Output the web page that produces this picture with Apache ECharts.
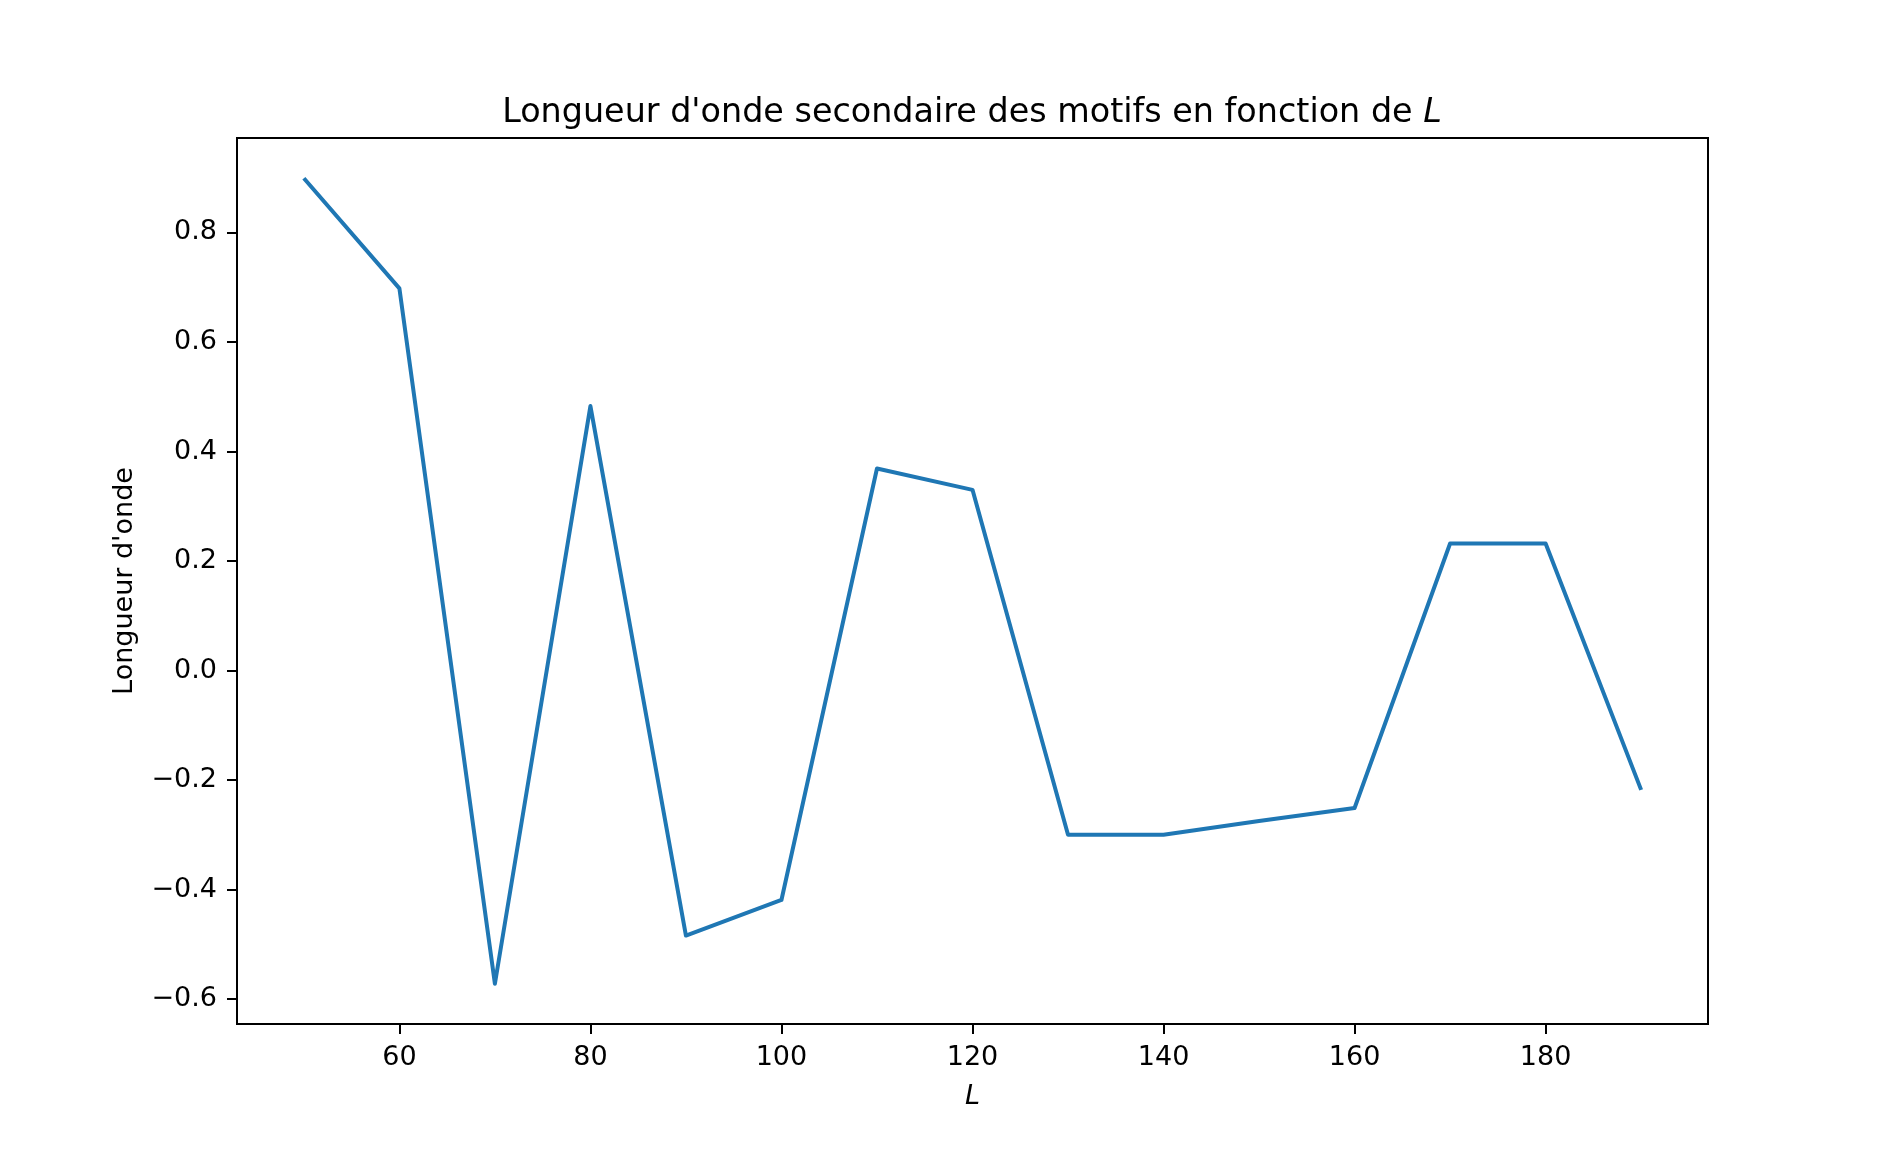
<!DOCTYPE html>
<html>
<head>
<meta charset="UTF-8">
<title>Longueur d'onde</title>
<script src="https://cdn.jsdelivr.net/npm/echarts@6/dist/echarts.min.js"></script>
<style>
	body{margin:0;background:#fff;}
</style>
</head>
<body>
	<div id="main" style="width:1898px;height:1150px;"></div>
	<script type="text/javascript">
		// valeurs
		var L = [50, 60, 70, 80, 90, 100, 110, 120, 130, 140, 150, 160, 170, 180, 190];
		var longueur = [0.899, 0.698, -0.572, 0.483, -0.484, -0.419, 0.369, 0.330, -0.300, -0.300, -0.275, -0.251, 0.232, 0.232, -0.218];
		var xTicks = [60, 80, 100, 120, 140, 160, 180];
		var yTicks = [-0.6, -0.4, -0.2, 0.0, 0.2, 0.4, 0.6, 0.8];

		var font = 'DejaVu Sans';
		var axisCommon = {
			axisLine:{show:true, onZero:false, lineStyle:{color:'#000', width:2}},
			axisTick:{show:true, inside:false, length:10, lineStyle:{color:'#000', width:2}},
			splitLine:{show:false}
		};

		var myChart = echarts.init(document.getElementById('main'));
		var option = {
			animation:false,
			title:{
				text:"Longueur d'onde secondaire des motifs en fonction de {i|L}",
				left:967,
				textAlign:'center',
				top:92,
				textStyle:{
					fontFamily:font, fontSize:33.4, fontWeight:'normal', color:'#000',
					rich:{i:{fontFamily:font, fontSize:33.4, fontStyle:'italic', color:'#000'}}
				}
			},
			grid:{
				left:237, right:190, top:138, bottom:126,
				show:true, borderColor:'#000', borderWidth:2
			},
			xAxis:Object.assign({
				type:'value',
				min:function(v){ return v.min - 0.05 * (v.max - v.min); },
				max:function(v){ return v.max + 0.05 * (v.max - v.min); },
				name:'L',
				nameLocation:'middle',
				nameGap:59,
				nameTextStyle:{fontFamily:font, fontSize:27, fontStyle:'italic', color:'#000'},
				axisLabel:{
					customValues:xTicks, margin:20,
					fontFamily:font, fontSize:27, color:'#000'
				}
			}, axisCommon, {axisTick:Object.assign({customValues:xTicks}, axisCommon.axisTick)}),
			yAxis:Object.assign({
				type:'value',
				min:function(v){ return v.min - 0.05 * (v.max - v.min); },
				max:function(v){ return v.max + 0.05 * (v.max - v.min); },
				name:"Longueur d'onde",
				nameLocation:'middle',
				nameGap:99,
				nameTextStyle:{fontFamily:font, fontSize:27, color:'#000'},
				axisLabel:{
					customValues:yTicks, margin:20,
					fontFamily:font, fontSize:27, color:'#000',
					formatter:function(v){ return v.toFixed(1).replace('-', '\u2212'); }
				}
			}, axisCommon, {axisTick:Object.assign({customValues:yTicks}, axisCommon.axisTick)}),
			series:[{
				type:'line',
				data:L.map(function(x, i){ return [x, longueur[i]]; }),
				showSymbol:false,
				symbol:'none',
				lineStyle:{color:'#1f77b4', width:4, join:'round'}
			}]
		};
		myChart.setOption(option);
	</script>
</body>
</html>
